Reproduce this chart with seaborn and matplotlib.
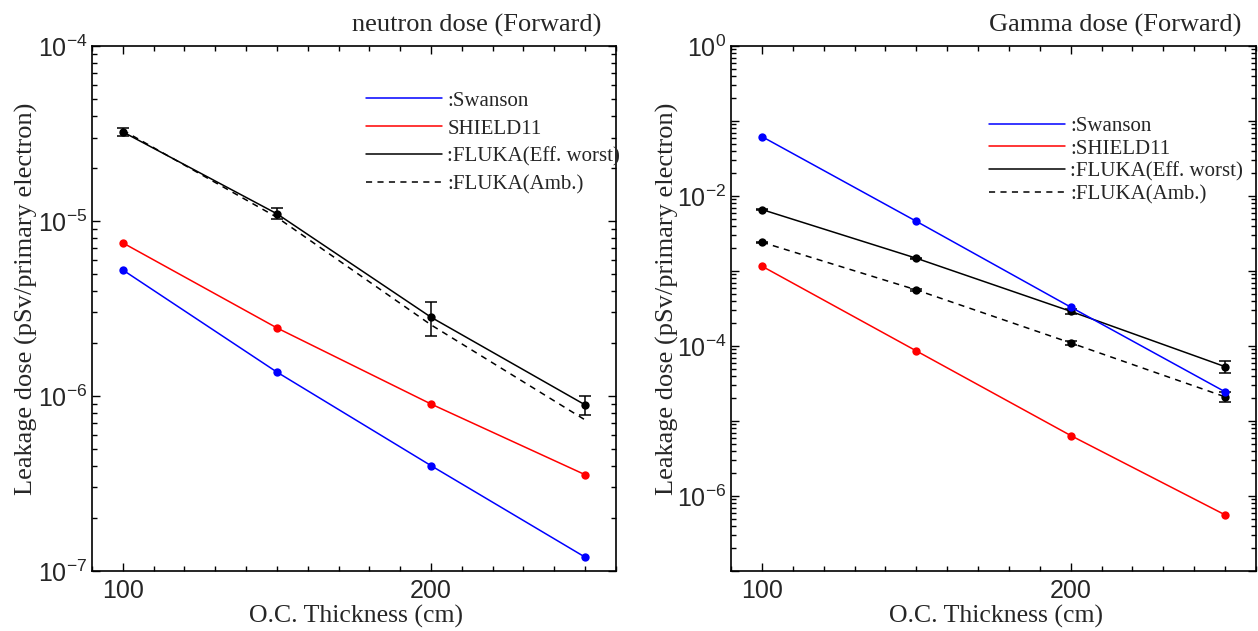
import matplotlib
matplotlib.use("Agg")
import matplotlib.pyplot as plt
import seaborn as sns
import numpy as np
import pandas as pd
from matplotlib.ticker import MultipleLocator, LogLocator, NullFormatter, FuncFormatter
from matplotlib.lines import Line2D

# ---------------- data ----------------
thickness = [100, 150, 200, 250]

n_swanson = [5.25e-6, 1.37e-6, 4.0e-7, 1.2e-7]
n_shield11 = [7.5e-6, 2.45e-6, 9.0e-7, 3.55e-7]
n_fluka_eff = [3.23e-5, 1.10e-5, 2.82e-6, 8.9e-7]
n_fluka_eff_err = [1.7e-6, 0.8e-6, 0.62e-6, 1.1e-7]
n_fluka_amb = [3.3e-5, 1.05e-5, 2.55e-6, 7.3e-7]

g_swanson = [6.2e-2, 4.6e-3, 3.3e-4, 2.45e-5]
g_shield11 = [1.16e-3, 8.6e-5, 6.4e-6, 5.6e-7]
g_fluka_eff = [6.6e-3, 1.48e-3, 2.9e-4, 5.3e-5]
g_fluka_eff_err = [1.5e-4, 3e-5, 2.3e-5, 1.0e-5]
g_fluka_amb = [2.42e-3, 5.6e-4, 1.1e-4, 2.1e-5]
g_fluka_amb_err = [5e-5, 1.5e-5, 8e-6, 3e-6]

legend_left = [":Swanson", "SHIELD11", ":FLUKA(Eff. worst)", ":FLUKA(Amb.)"]
legend_right = [":Swanson", ":SHIELD11", ":FLUKA(Eff. worst)", ":FLUKA(Amb.)"]
titles = ["neutron dose (Forward)", "Gamma dose (Forward)"]
xlabel = "O.C. Thickness (cm)"
ylabel = "Leakage dose (pSv/primary electron)"

# ---------------- style ----------------
sns.set_style("ticks")
plt.rcParams['font.family'] = ['Liberation Sans', 'DejaVu Sans']
plt.rcParams['mathtext.fontset'] = 'custom'
plt.rcParams['mathtext.rm'] = 'Liberation Sans'
SERIF = ['Liberation Serif', 'DejaVu Serif']

BLUE = '#0000ff'
RED = '#ff0000'
LW = 1.1
DASH = (0, (4, 3.5))

fig = plt.figure(figsize=(12.58, 6.31), dpi=100)
axL = fig.add_axes([0.0731, 0.0951, 0.4165, 0.832])
axR = fig.add_axes([0.5811, 0.0951, 0.4173, 0.832])


def draw(ax, sw, sh, fe, fe_err, fa, fa_err, amb_markers):
    df = pd.DataFrame({'x': thickness, 'sw': sw, 'sh': sh, 'fe': fe, 'fa': fa})
    mk = dict(marker='o', markersize=6, markeredgewidth=0)
    sns.lineplot(data=df, x='x', y='fa', ax=ax, color='k', linewidth=LW,
                 linestyle=DASH, **(mk if amb_markers else {}))
    if fa_err is not None:
        ax.errorbar(thickness, fa, yerr=fa_err, fmt='none', ecolor='k',
                    elinewidth=LW, capsize=4, capthick=LW)
    sns.lineplot(data=df, x='x', y='fe', ax=ax, color='k', linewidth=LW, **mk)
    ax.errorbar(thickness, fe, yerr=fe_err, fmt='none', ecolor='k',
                elinewidth=LW, capsize=4, capthick=LW)
    sns.lineplot(data=df, x='x', y='sh', ax=ax, color=RED, linewidth=LW, **mk)
    sns.lineplot(data=df, x='x', y='sw', ax=ax, color=BLUE, linewidth=LW, **mk)


draw(axL, n_swanson, n_shield11, n_fluka_eff, n_fluka_eff_err, n_fluka_amb, None, False)
draw(axR, g_swanson, g_shield11, g_fluka_eff, g_fluka_eff_err, g_fluka_amb, g_fluka_amb_err, True)


def sci_label(step):
    def f(v, pos):
        e = int(round(np.log10(v)))
        if e % step != 0:
            return ''
        return r'$\mathdefault{10^{%d}}$' % e
    return f


for ax, ylim, step, title, labels in [
        (axL, (1e-7, 1e-4), 1, titles[0], legend_left),
        (axR, (1e-7, 1e0), 2, titles[1], legend_right)]:
    ax.set_yscale('log')
    ax.set_xlim(90, 260)
    ax.set_ylim(*ylim)
    ax.xaxis.set_major_locator(MultipleLocator(100))
    ax.xaxis.set_minor_locator(MultipleLocator(10))
    ax.yaxis.set_major_locator(LogLocator(base=10, numticks=20))
    ax.yaxis.set_minor_locator(LogLocator(base=10, subs=np.arange(2, 10), numticks=20))
    ax.yaxis.set_major_formatter(FuncFormatter(sci_label(step)))
    ax.yaxis.set_minor_formatter(NullFormatter())
    ax.tick_params(which='both', direction='in', top=True, right=True,
                   width=1.0, color='k')
    ax.tick_params(which='major', length=6)
    ax.tick_params(which='minor', length=3.6)
    ax.tick_params(axis='x', which='major', labelsize=18, pad=6)
    ax.tick_params(axis='y', which='major', labelsize=18, pad=3.5)
    for s in ax.spines.values():
        s.set_linewidth(1.2)
        s.set_color('k')
    ax.set_xlabel(xlabel, fontsize=18.5, family=SERIF)
    ax.set_ylabel(ylabel, fontsize=19, family=SERIF)
    ax.text(0.973, 1.027, title, transform=ax.transAxes, ha='right',
            va='baseline', fontsize=19, family=SERIF)

axL.xaxis.set_label_coords(0.504, -0.064)
axR.xaxis.set_label_coords(0.504, -0.064)
axL.yaxis.set_label_coords(-0.103, 0.518)
axR.yaxis.set_label_coords(-0.099, 0.518)

handles = [Line2D([], [], color=BLUE, lw=LW),
           Line2D([], [], color=RED, lw=LW),
           Line2D([], [], color='k', lw=LW),
           Line2D([], [], color='k', lw=LW, linestyle=DASH)]

axL.legend(handles, legend_left, loc='upper left', bbox_to_anchor=(0.523, 0.914),
           frameon=False, borderpad=0, borderaxespad=0, handlelength=3.65,
           handletextpad=0.25, labelspacing=0.4, prop={'family': SERIF, 'size': 15})
axR.legend(handles, legend_right, loc='upper left', bbox_to_anchor=(0.491, 0.866),
           frameon=False, borderpad=0, borderaxespad=0, handlelength=3.65,
           handletextpad=0.25, labelspacing=0.15, prop={'family': SERIF, 'size': 15})

fig.savefig('out.png', dpi=100)
